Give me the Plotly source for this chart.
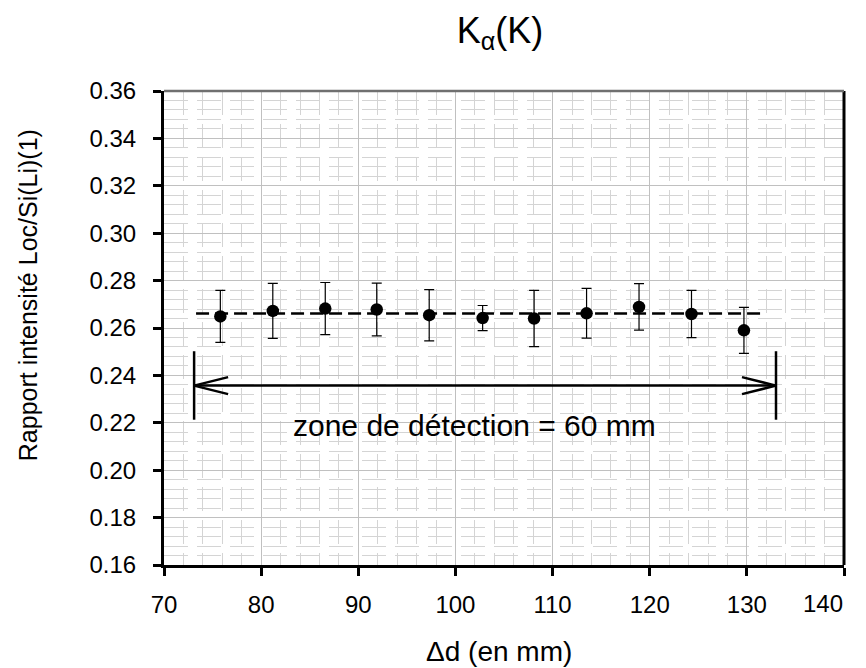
import plotly.graph_objects as go

# ---- data ----
dist_mm = [75.8, 81.2, 86.6, 91.9, 97.3, 102.8, 108.1, 113.5, 118.9, 124.3, 129.7]
ratio = [0.2649, 0.2672, 0.2682, 0.2678, 0.2654, 0.2642, 0.2640, 0.2662, 0.2689, 0.2659, 0.2590]
ratio_err = [0.0110, 0.0116, 0.0110, 0.0111, 0.0108, 0.0053, 0.0119, 0.0105, 0.0098, 0.0100, 0.0097]

mean_x = [73.3, 131.5]
mean_level = [0.2661, 0.2661]

zone_start = 73.1
zone_end = 133.0
zone_arrow_y = 0.2357
zone_bar_low = 0.2213
zone_bar_high = 0.2502
zone_label = "zone de détection = 60 mm"
zone_label_x = 102.0
zone_label_y = 0.2187

x_ticks = [70, 80, 90, 100, 110, 120, 130, 140]
x_tick_labels = ["70", "80", "90", "100", "110", "120", "130", "140"]
y_ticks = [0.16, 0.18, 0.20, 0.22, 0.24, 0.26, 0.28, 0.30, 0.32, 0.34, 0.36]

FONT = "Liberation Sans, Arial, sans-serif"

# the last x label is right-aligned inside the frame (as in the original),
# so it is drawn as an annotation anchored at its tick value
x_tick_text = x_tick_labels[:-1] + [""]

fig = go.Figure()

fig.add_trace(go.Scatter(
    x=mean_x, y=mean_level, mode="lines",
    line=dict(color="black", width=2.5, dash="13px,6px"),
    showlegend=False, hoverinfo="skip"))

fig.add_trace(go.Scatter(
    x=dist_mm, y=ratio, mode="markers",
    marker=dict(color="black", size=12.5),
    error_y=dict(type="data", array=ratio_err, visible=True,
                 color="black", thickness=1.2, width=5),
    showlegend=False))

shapes = []
line_style = dict(color="black", width=2.5)
shapes.append(dict(type="line", xref="x", yref="y", x0=zone_start, x1=zone_end,
                   y0=zone_arrow_y, y1=zone_arrow_y, line=line_style))
for xb in (zone_start, zone_end):
    shapes.append(dict(type="line", xref="x", yref="y", x0=xb, x1=xb,
                       y0=zone_bar_low, y1=zone_bar_high, line=line_style))
for xb, sgn in ((zone_start, 1), (zone_end, -1)):
    for s in (1, -1):
        shapes.append(dict(type="line", xref="x", yref="y",
                           xsizemode="pixel", xanchor=xb,
                           ysizemode="pixel", yanchor=zone_arrow_y,
                           x0=0, x1=34 * sgn, y0=0, y1=8.5 * s,
                           line=line_style))
shapes.append(dict(type="line", xref="paper", yref="paper", x0=1, x1=1, y0=0, y1=1,
                   line=dict(color="black", width=3), layer="above"))
shapes.append(dict(type="line", xref="paper", yref="paper", x0=0, x1=1, y0=1, y1=1,
                   line=dict(color="#707070", width=2.5), layer="above"))

annotations = [
    dict(text=zone_label, x=zone_label_x, y=zone_label_y, xref="x", yref="y",
         showarrow=False, font=dict(family=FONT, size=30, color="black"),
         xanchor="center", yanchor="middle"),
    dict(text="Rapport intensité Loc/Si(Li)(1)", x=-0.2001, y=0.569,
         xref="paper", yref="paper", showarrow=False, textangle=-90,
         font=dict(family=FONT, size=25, color="black"),
         xanchor="center", yanchor="middle"),
    dict(text="Δd (en mm)", x=0.4929, y=-0.183, xref="paper", yref="paper",
         showarrow=False, font=dict(family=FONT, size=28, color="black"),
         xanchor="center", yanchor="middle"),
    dict(text=x_tick_labels[-1], x=x_ticks[-1], y=-0.0822, xref="x", yref="paper",
         showarrow=False, font=dict(family=FONT, size=24, color="black"),
         xanchor="right", yanchor="middle", xshift=1),
]

fig.update_layout(
    width=858, height=660,
    margin=dict(l=156, r=22, t=83, b=103, autoexpand=False),
    paper_bgcolor="white", plot_bgcolor="white",
    font=dict(family=FONT, color="black"),
    title=dict(text="K<sub>α</sub>(K)", x=(500 - 8) / 858, xanchor="center",
               y=1 - 22 / 660, yanchor="middle", yref="container",
               font=dict(family=FONT, size=36, color="black")),
    shapes=shapes, annotations=annotations, showlegend=False,
)

fig.update_xaxes(
    range=[70, 140], tickvals=x_ticks, ticktext=x_tick_text,
    ticklabeloverflow="allow", automargin=False,
    showline=True, linecolor="black", linewidth=3, mirror=False,
    ticks="outside", ticklen=8, tickwidth=2.5, tickcolor="black",
    tickfont=dict(family=FONT, size=24, color="black"), ticklabelstandoff=8,
    showgrid=True, gridcolor="#c0c0c0", gridwidth=1, zeroline=False,
    minor=dict(dtick=2, tick0=70, showgrid=True, gridcolor="#d4d4d4",
               gridwidth=1.3, griddash="24px,9px", ticklen=0),
)
fig.update_yaxes(
    range=[0.16, 0.36], tickvals=y_ticks, ticktext=[f"{v:.2f}" for v in y_ticks],
    ticklabeloverflow="allow", automargin=False,
    showline=True, linecolor="black", linewidth=3, mirror=False,
    ticks="outside", ticklen=8, tickwidth=2.5, tickcolor="black",
    tickfont=dict(family=FONT, size=24, color="black"), ticklabelstandoff=12,
    showgrid=True, gridcolor="#c0c0c0", gridwidth=1, zeroline=False,
    minor=dict(dtick=0.004, tick0=0.16, showgrid=True, gridcolor="#d4d4d4",
               gridwidth=1.3, griddash="24px,9px", ticklen=0),
)

fig.write_html("out.html")
